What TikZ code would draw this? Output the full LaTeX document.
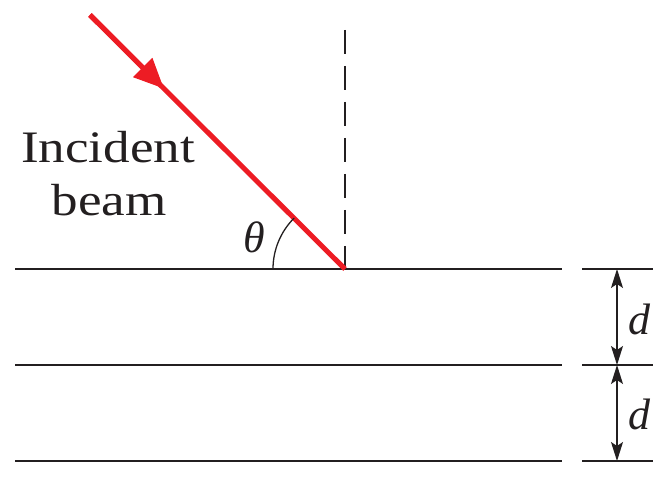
\documentclass[tikz,border=0pt]{standalone}
\usepackage{fontspec}
\newfontfamily\capfont{Liberation Serif}
\usetikzlibrary{arrows.meta,calc}
\definecolor{beamred}{RGB}{237,28,36}
\definecolor{ink}{RGB}{35,31,32}
\begin{document}
\begin{tikzpicture}[x=1pt,y=-1pt,
  plane/.style={line width=2.8pt,ink},
  tick/.style={line width=1.4pt,ink},
  normal/.style={line width=2pt,ink,dash pattern=on 24pt off 12pt},
  beam/.style={line width=5pt,beamred},
  dim/.style={line width=1.4pt,ink,{Stealth[length=19pt,width=12pt,inset=4pt]}-{Stealth[length=19pt,width=12pt,inset=4pt]}},
  lbl/.style={text=ink,inner sep=0pt},
  big/.style={font=\capfont\itshape\fontsize{44}{50}\selectfont},
  captext/.style={font=\capfont\fontsize{45}{53}\selectfont}]
\useasboundingbox (0,0) rectangle (669,478);
% planes
\coordinate (p1l) at (15,269); \coordinate (p1r) at (562,269);
\coordinate (p2l) at (15,365); \coordinate (p2r) at (562,365);
\coordinate (p3l) at (15,461); \coordinate (p3r) at (562,461);
\draw[plane] (p1l) -- (p1r);
\draw[plane] (p2l) -- (p2r);
\draw[plane] (p3l) -- (p3r);
% ticks
\coordinate (t1l) at (582,269); \coordinate (t1r) at (653,269);
\coordinate (t2l) at (582,365); \coordinate (t2r) at (653,365);
\coordinate (t3l) at (582,461); \coordinate (t3r) at (653,461);
\draw[tick] (t1l) -- (t1r);
\draw[tick] (t2l) -- (t2r);
\draw[tick] (t3l) -- (t3r);
% dimension arrows
\coordinate (a1) at (617,269); \coordinate (a2) at (617,365); \coordinate (a3) at (617,461);
\draw[dim] (a1) -- (a2);
\draw[dim] (a2) -- (a3);
\node[lbl,big] (d1) at (639,319) {d};
\node[lbl,big] (d2) at (639,414) {d};
% normal
\coordinate (hit) at (345,269);
\coordinate (ntop) at (345,30);
\draw[normal] (ntop) -- (hit);
% beam
\coordinate (src) at (90,15);
\draw[beam] (src) -- (hit);
\draw[beam,-{Triangle[length=30pt,width=26pt]}] (src) -- ($(src)!0.29!(hit)$);
% angle
\draw[line width=1.3pt,ink] ($(hit)+(-72,0)$) arc (180:225:72);
\node[lbl,big] (theta) at (254,237) {θ};
% label
\node[lbl,captext,anchor=base] (inc1) at (108,163) {\scalebox{1.18}[1]{Incident}};
\node[lbl,captext,anchor=base] (inc2) at (109,216) {\scalebox{1.18}[1]{beam}};
\end{tikzpicture}
\end{document}
